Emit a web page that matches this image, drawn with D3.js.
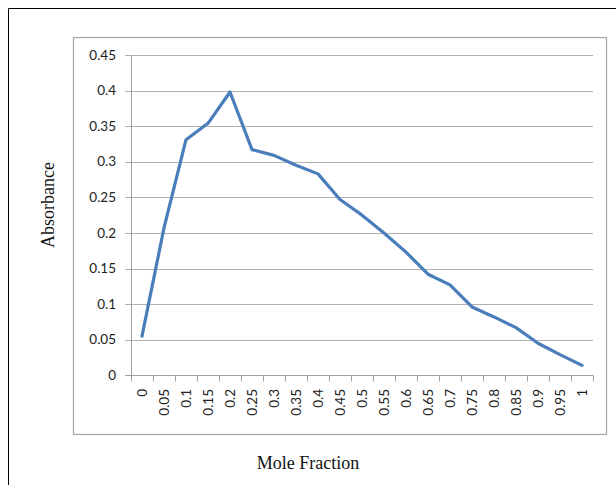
<!DOCTYPE html>
<html>
<head>
<meta charset="utf-8">
<script src="https://cdn.jsdelivr.net/npm/d3@7"></script>
<style>
  html, body { margin: 0; padding: 0; background: #fff; }
  svg { display: block; }
</style>
</head>
<body>
<svg id="chart" width="616" height="485"></svg>
<script>
// Data
const categories = ["0","0.05","0.1","0.15","0.2","0.25","0.3","0.35","0.4","0.45","0.5","0.55","0.6","0.65","0.7","0.75","0.8","0.85","0.9","0.95","1"];
const absorbance = [0.055,0.207,0.331,0.354,0.398,0.317,0.309,0.295,0.283,0.247,0.225,0.2,0.173,0.142,0.127,0.096,0.082,0.067,0.045,0.029,0.014];
const yTicks = [0,0.05,0.1,0.15,0.2,0.25,0.3,0.35,0.4,0.45];
const yTickLabels = ["0","0.05","0.1","0.15","0.2","0.25","0.3","0.35","0.4","0.45"];
const xTitle = "Mole Fraction";
const yTitle = "Absorbance";

(function () {
const svg = d3.select("#chart");

// outer frame (top & left visible)
svg.append("line").attr("x1", 8.5).attr("y1", 8.5).attr("x2", 616).attr("y2", 8.5)
  .attr("stroke", "#000").attr("stroke-width", 1);
svg.append("line").attr("x1", 8.5).attr("y1", 8.5).attr("x2", 8.5).attr("y2", 485)
  .attr("stroke", "#000").attr("stroke-width", 1);

// chart area box
svg.append("rect").attr("x", 73.5).attr("y", 37.5).attr("width", 533).attr("height", 397)
  .attr("fill", "#fff").attr("stroke", "#a6a6a6").attr("stroke-width", 1.2);

const pLeft = 131, pRight = 593, pTop = 55, pBottom = 375.3;

const x = d3.scaleBand().domain(categories).range([pLeft, pRight]).paddingInner(0).paddingOuter(0);
const y = d3.scaleLinear().domain([0, 0.45]).range([pBottom, pTop]);

// gridlines + y tick marks
const grid = svg.append("g");
yTicks.forEach((t, i) => {
  if (i === 0) return;
  grid.append("line")
    .attr("x1", pLeft - 6).attr("x2", pRight)
    .attr("y1", Math.round(y(t)) + 0.5).attr("y2", Math.round(y(t)) + 0.5)
    .attr("stroke", "#b0b0b0").attr("stroke-width", 1);
});

// y axis line
svg.append("line").attr("x1", pLeft + 0.5).attr("x2", pLeft + 0.5)
  .attr("y1", pTop).attr("y2", pBottom)
  .attr("stroke", "#a0a0a0").attr("stroke-width", 1);
// x axis line
svg.append("line").attr("x1", pLeft - 6).attr("x2", pRight)
  .attr("y1", Math.round(y(0)) + 0.5).attr("y2", Math.round(y(0)) + 0.5)
  .attr("stroke", "#a0a0a0").attr("stroke-width", 1);

// x tick marks at category boundaries
const step = x.step();
for (let i = 0; i <= categories.length; i++) {
  const xx = Math.round(pLeft + step * i) + 0.5;
  svg.append("line").attr("x1", xx).attr("x2", xx)
    .attr("y1", y(0)).attr("y2", y(0) + 6)
    .attr("stroke", "#a0a0a0").attr("stroke-width", 1);
}

// y tick labels
svg.append("g").selectAll("text").data(yTicks).join("text")
  .attr("x", 116).attr("y", d => y(d))
  .attr("dy", "0.35em")
  .attr("text-anchor", "end")
  .attr("font-family", "Lato, 'Open Sans', sans-serif")
  .attr("font-size", 13.5)
  .attr("fill", "#222")
  .text((d, i) => yTickLabels[i]);

// x tick labels (rotated)
svg.append("g").selectAll("text").data(categories).join("text")
  .attr("transform", d => `translate(${x(d) + x.bandwidth() / 2},389) rotate(-90)`)
  .attr("dy", "0.35em")
  .attr("text-anchor", "end")
  .attr("font-family", "Lato, 'Open Sans', sans-serif")
  .attr("font-size", 13.5)
  .attr("fill", "#222")
  .text(d => d);

// line
const line = d3.line()
  .x((d, i) => x(categories[i]) + x.bandwidth() / 2)
  .y(d => y(d));
svg.append("path").datum(absorbance)
  .attr("d", line)
  .attr("fill", "none")
  .attr("stroke", "#4a7ebb")
  .attr("stroke-width", 3.2)
  .attr("stroke-linejoin", "round")
  .attr("stroke-linecap", "round");

// axis titles
svg.append("text")
  .attr("x", 308).attr("y", 469)
  .attr("text-anchor", "middle")
  .attr("font-family", "'Liberation Serif', 'Times New Roman', serif")
  .attr("font-size", 18)
  .attr("fill", "#111")
  .text(xTitle);

svg.append("text")
  .attr("transform", "translate(54,205) rotate(-90)")
  .attr("text-anchor", "middle")
  .attr("font-family", "'Liberation Serif', 'Times New Roman', serif")
  .attr("font-size", 18)
  .attr("fill", "#111")
  .text(yTitle);
})();
</script>
</body>
</html>
